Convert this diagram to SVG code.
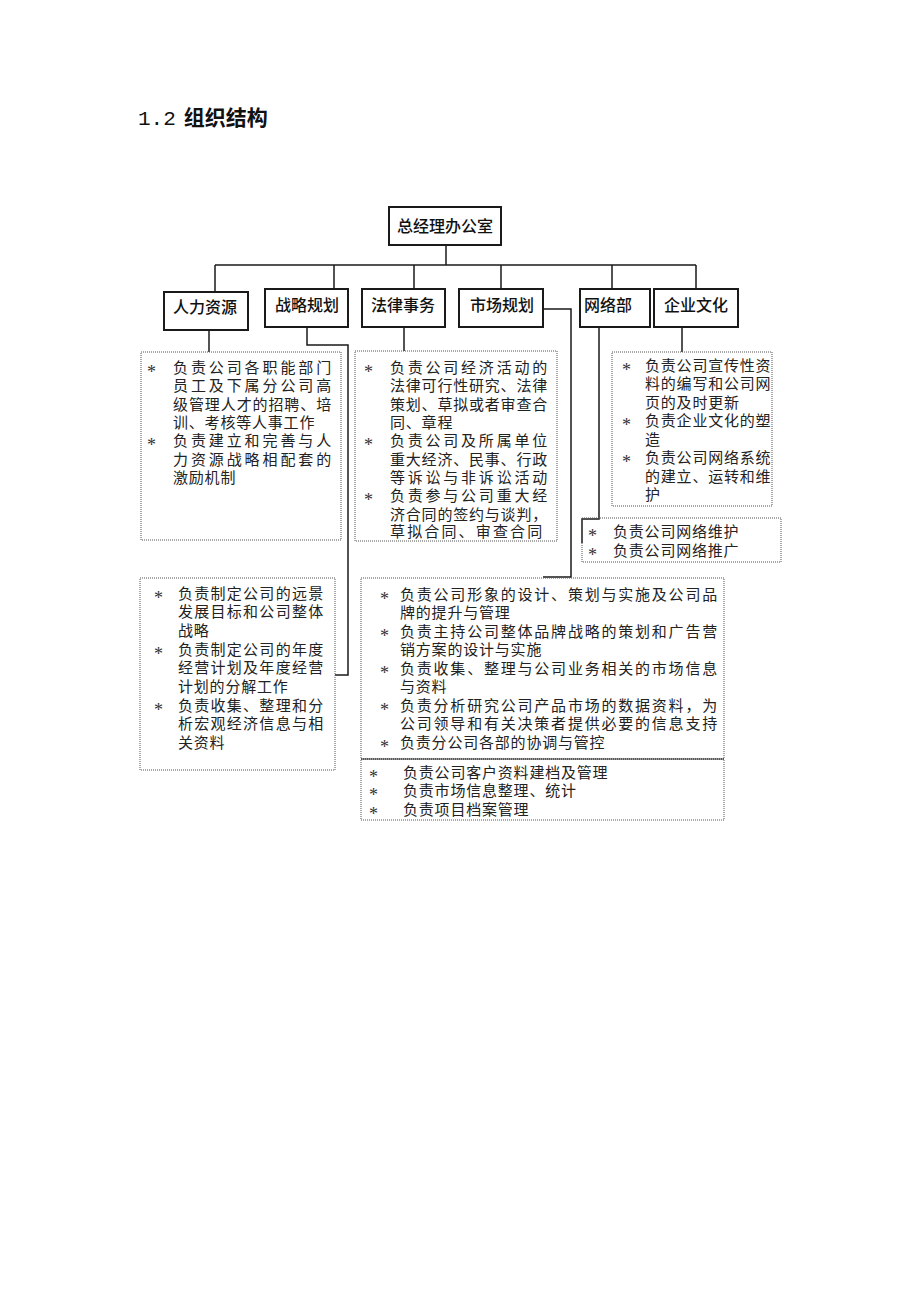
<svg xmlns="http://www.w3.org/2000/svg" width="920" height="1302" viewBox="0 0 920 1302">
<style>
.bg{fill:#fff}
.dept rect{fill:#fff;stroke:#1a1a1a;stroke-width:2}
.dept text{font-family:"Noto Sans CJK SC","Noto Sans",sans-serif;font-size:16px;font-weight:500;fill:#111}
.desc rect{fill:none;stroke:#555;stroke-width:1;stroke-dasharray:1 1}
.desc text{font-family:"Noto Sans CJK SC","Noto Sans",sans-serif;font-size:15px;fill:#222;letter-spacing:0.8px}
.desc .b{font-family:"Liberation Serif",serif;font-size:18px;fill:#333;letter-spacing:0}
.conn path{fill:none;stroke:#1a1a1a;stroke-width:1.5}
.solid{stroke:#333;stroke-width:1.2;fill:none}
</style>
<rect class="bg" x="0" y="0" width="920" height="1302"/>
<text x="138" y="125" font-size="21" fill="#111"><tspan font-family="Liberation Mono, monospace">1.2</tspan><tspan font-family="Noto Sans CJK SC, sans-serif" font-weight="bold" dx="8">组织结构</tspan></text>

<g class="conn" id="connectors">
<path d="M446,245V265M215,265H696M215,265V292M334,265V289M414,265V289M501,265V289M612,265V289M696,265V289"/>
<path d="M209,330V352"/>
<path d="M307,327V345H348V675H335"/>
<path d="M404,327V351"/>
<path d="M543,309H571V577H543"/>
<path d="M599,327V519H582V543"/>
<path d="M682,327V352"/>
</g>

<g class="dept" id="n-gm"><rect x="389" y="207" width="112" height="38"/><text x="397" y="232">总经理办公室</text></g>
<g class="dept" id="n-hr"><rect x="164" y="292" width="84" height="38"/><text x="173" y="313">人力资源</text></g>
<g class="dept" id="n-strategy"><rect x="265" y="289" width="83" height="38"/><text x="275" y="311">战略规划</text></g>
<g class="dept" id="n-legal"><rect x="362" y="289" width="83" height="38"/><text x="371" y="311">法律事务</text></g>
<g class="dept" id="n-market"><rect x="459" y="289" width="84" height="38"/><text x="470" y="311">市场规划</text></g>
<g class="dept" id="n-network"><rect x="580" y="289" width="70" height="38"/><text x="584" y="311">网络部</text></g>
<g class="dept" id="n-culture"><rect x="654" y="289" width="84" height="38"/><text x="664" y="311">企业文化</text></g>

<g class="desc" id="d-hr">
<rect x="141" y="352" width="200" height="188"/>
<text class="b" x="147" y="378">*</text>
<text x="173" y="373" textLength="159" lengthAdjust="spacing">负责公司各职能部门</text>
<text x="173" y="391" textLength="159" lengthAdjust="spacing">员工及下属分公司高</text>
<text x="173" y="410" textLength="159" lengthAdjust="spacing">级管理人才的招聘、培</text>
<text x="173" y="428">训、考核等人事工作</text>
<text class="b" x="147" y="451">*</text>
<text x="173" y="446" textLength="159" lengthAdjust="spacing">负责建立和完善与人</text>
<text x="173" y="465" textLength="159" lengthAdjust="spacing">力资源战略相配套的</text>
<text x="173" y="483">激励机制</text>
</g>

<g class="desc" id="d-legal">
<rect x="355" y="351" width="202" height="190"/>
<text class="b" x="364" y="378">*</text>
<text x="390" y="373" textLength="158" lengthAdjust="spacing">负责公司经济活动的</text>
<text x="390" y="391" textLength="158" lengthAdjust="spacing">法律可行性研究、法律</text>
<text x="390" y="410" textLength="158" lengthAdjust="spacing">策划、草拟或者审查合</text>
<text x="390" y="428">同、章程</text>
<text class="b" x="364" y="451">*</text>
<text x="390" y="446" textLength="158" lengthAdjust="spacing">负责公司及所属单位</text>
<text x="390" y="465" textLength="158" lengthAdjust="spacing">重大经济、民事、行政</text>
<text x="390" y="483" textLength="158" lengthAdjust="spacing">等诉讼与非诉讼活动</text>
<text class="b" x="364" y="506">*</text>
<text x="390" y="501" textLength="158" lengthAdjust="spacing">负责参与公司重大经</text>
<text x="390" y="520" textLength="158" lengthAdjust="spacing">济合同的签约与谈判，</text>
<text x="390" y="537" textLength="153" lengthAdjust="spacing">草拟合同、审查合同</text>
</g>

<g class="desc" id="d-culture">
<rect x="612" y="352" width="160" height="154"/>
<text class="b" x="622" y="376">*</text>
<text x="645" y="371">负责公司宣传性资</text>
<text x="645" y="389">料的编写和公司网</text>
<text x="645" y="408">页的及时更新</text>
<text class="b" x="622" y="431">*</text>
<text x="645" y="426">负责企业文化的塑</text>
<text x="645" y="445">造</text>
<text class="b" x="622" y="468">*</text>
<text x="645" y="463">负责公司网络系统</text>
<text x="645" y="482">的建立、运转和维</text>
<text x="645" y="500">护</text>
</g>

<g class="desc" id="d-network">
<rect x="582" y="518" width="199" height="44"/>
<text class="b" x="588" y="542">*</text>
<text x="613" y="537">负责公司网络维护</text>
<text class="b" x="588" y="561">*</text>
<text x="613" y="556">负责公司网络推广</text>
</g>

<g class="desc" id="d-strategy">
<rect x="140" y="578" width="195" height="192"/>
<text class="b" x="154" y="604">*</text>
<text x="178" y="599" textLength="146" lengthAdjust="spacing">负责制定公司的远景</text>
<text x="178" y="617" textLength="146" lengthAdjust="spacing">发展目标和公司整体</text>
<text x="178" y="636">战略</text>
<text class="b" x="154" y="660">*</text>
<text x="178" y="655" textLength="146" lengthAdjust="spacing">负责制定公司的年度</text>
<text x="178" y="673" textLength="146" lengthAdjust="spacing">经营计划及年度经营</text>
<text x="178" y="692">计划的分解工作</text>
<text class="b" x="154" y="716">*</text>
<text x="178" y="711" textLength="146" lengthAdjust="spacing">负责收集、整理和分</text>
<text x="178" y="729" textLength="146" lengthAdjust="spacing">析宏观经济信息与相</text>
<text x="178" y="748">关资料</text>
</g>

<g class="desc" id="d-market">
<rect x="361" y="578" width="363" height="181"/>
<text class="b" x="380" y="605">*</text>
<text x="400" y="600" textLength="318" lengthAdjust="spacing">负责公司形象的设计、策划与实施及公司品</text>
<text x="400" y="618">牌的提升与管理</text>
<text class="b" x="380" y="642">*</text>
<text x="400" y="637" textLength="318" lengthAdjust="spacing">负责主持公司整体品牌战略的策划和广告营</text>
<text x="400" y="655">销方案的设计与实施</text>
<text class="b" x="380" y="679">*</text>
<text x="400" y="674" textLength="318" lengthAdjust="spacing">负责收集、整理与公司业务相关的市场信息</text>
<text x="400" y="692">与资料</text>
<text class="b" x="380" y="716">*</text>
<text x="400" y="711" textLength="318" lengthAdjust="spacing">负责分析研究公司产品市场的数据资料，为</text>
<text x="400" y="729" textLength="318" lengthAdjust="spacing">公司领导和有关决策者提供必要的信息支持</text>
<text class="b" x="380" y="753">*</text>
<text x="400" y="748">负责分公司各部的协调与管控</text>
</g>

<g class="desc" id="d-market2">
<rect x="361" y="759" width="363" height="61"/>
<line class="solid" x1="361" y1="759" x2="724" y2="759"/>
<text class="b" x="369" y="783">*</text>
<text x="403" y="778">负责公司客户资料建档及管理</text>
<text class="b" x="369" y="801">*</text>
<text x="403" y="796">负责市场信息整理、统计</text>
<text class="b" x="369" y="820">*</text>
<text x="403" y="815">负责项目档案管理</text>
</g>
</svg>
